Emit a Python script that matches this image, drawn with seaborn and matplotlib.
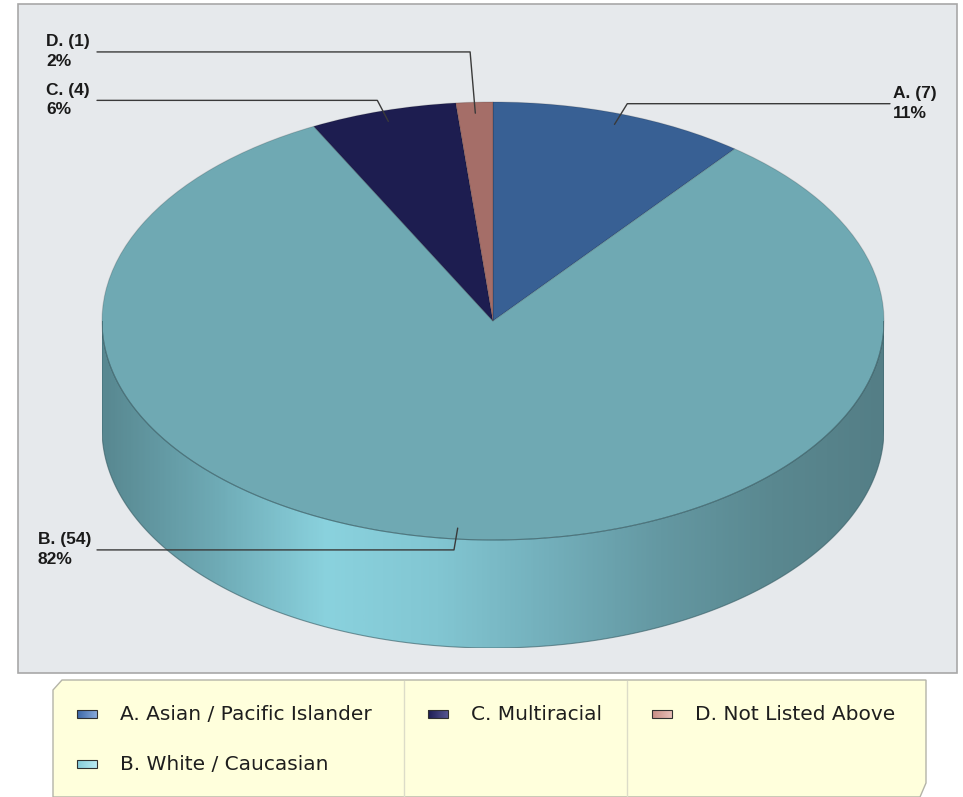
import numpy as np
import matplotlib.pyplot as plt
from matplotlib.patches import Polygon, Rectangle
import seaborn as sns

# Data
categories = ["A. Asian / Pacific Islander", "B. White / Caucasian",
              "C. Multiracial", "D. Not Listed Above"]
short_labels = ["A.", "B.", "C.", "D."]
counts = [7, 54, 4, 1]
percent_labels = ["11%", "82%", "6%", "2%"]

# Styles
top_colors = ["#386094", "#6FA9B3", "#1D1D50", "#A56E68"]
legend_colors = [("#3D68A8", "#86A8D8"), ("#86CCDA", "#B8EAF2"),
                 ("#1E1E55", "#545490"), ("#C98E86", "#E8BDB6")]
side_stops = ["#588891", "#6EAAB5", "#8AD2DE", "#82C6D2", "#73AFBB",
              "#6498A2", "#5A8890", "#547E86"]
label_radius = [1.05, 1.05, 1.05, 1.23]
label_text_x = [893, 38, 46, 46]

sns.set_style("white")
plt.rcParams["font.family"] = ["Liberation Sans", "DejaVu Sans"]

W, H = 963, 797
fig = plt.figure(figsize=(W / 100, H / 100), dpi=100)

# background layer in pixel coordinates
bg = fig.add_axes([0, 0, 1, 1])
bg.set_xlim(0, W)
bg.set_ylim(H, 0)
bg.axis("off")

bg.add_patch(Rectangle((18, 4), 939, 669, facecolor="#E6E9EC",
                       edgecolor="#A8A8A8", lw=1.2))

# legend box
bg.add_patch(Polygon([(53, 690), (62, 680), (926, 680), (926, 783),
                      (920, 797), (53, 797)], closed=True,
                     facecolor="#FFFFDC", edgecolor="#B4B4A8", lw=1))
for xd in [404, 627]:
    bg.plot([xd, xd], [681, 797], color="#DCDCC8", lw=1)

leg_pos = [(77, 714), (77, 764), (428, 714), (652, 714)]
for (mx, my), name, (c0, c1) in zip(leg_pos, categories, legend_colors):
    sw = np.array(sns.blend_palette([c0, c1], n_colors=20))[None, :, :]
    bg.imshow(sw, extent=(mx, mx + 20, my + 4, my - 4), aspect="auto",
              zorder=2)
    bg.add_patch(Rectangle((mx, my - 4), 20, 8, facecolor="none",
                           edgecolor="#303030", lw=0.8, zorder=3))
    bg.text(mx + 43, my, name, fontsize=14.5, va="center", ha="left",
            color="#1E1E1E", family="DejaVu Sans")

# pie layer
cx, cy, rx, ry = 493, 321, 391, 219
depth = 108 / ry
ax = fig.add_axes([(cx - rx) / W, (H - cy - ry * (1 + depth)) / H,
                   2 * rx / W, ry * (2 + depth) / H])
ax.patch.set_visible(False)

wedges, _ = ax.pie(counts, startangle=90, counterclock=False,
                   colors=top_colors,
                   wedgeprops=dict(edgecolor=(0, 0, 0, 0.15), linewidth=0.8))

# front side of the cylinder
t = np.linspace(np.pi, 2 * np.pi, 300)
front = np.column_stack([np.cos(t), np.sin(t)])
bottom = np.column_stack([np.cos(t[::-1]), np.sin(t[::-1]) - depth])
side = Polygon(np.vstack([front, bottom]), closed=True, facecolor="none",
               edgecolor=(0.2, 0.35, 0.38, 0.6), lw=0.8, zorder=2)
ax.add_patch(side)
grad = np.array(sns.blend_palette(side_stops, n_colors=400))[None, :, :]
im = ax.imshow(grad, extent=(-1, 1, -1 - depth, 0), aspect="auto", zorder=0.5)
im.set_clip_path(side)

# leader lines and labels
for i, w in enumerate(wedges):
    ang = np.deg2rad((w.theta1 + w.theta2) / 2)
    x0, y0 = 0.95 * np.cos(ang), 0.95 * np.sin(ang)
    x1, y1 = label_radius[i] * np.cos(ang), label_radius[i] * np.sin(ang)
    if np.cos(ang) > 0:
        x2 = (890 - cx) / rx
    else:
        x2 = (97 - cx) / rx
    ax.plot([x0, x1, x2], [y0, y1, y1], color="#3A3A3A", lw=1,
            clip_on=False, zorder=5)
    txd = (label_text_x[i] - cx) / rx
    ax.text(txd, y1 + 10 / ry, f"{short_labels[i]} ({counts[i]})",
            fontsize=12.5, fontweight="bold", ha="left", va="center",
            color="#1A1A1A", clip_on=False)
    ax.text(txd, y1 - 9.5 / ry, percent_labels[i], fontsize=12.5,
            fontweight="bold", ha="left", va="center", color="#1A1A1A",
            clip_on=False)

ax.set_aspect("auto")
ax.set_xlim(-1, 1)
ax.set_ylim(-1 - depth, 1)
ax.axis("off")

fig.savefig("out.png", dpi=100)
